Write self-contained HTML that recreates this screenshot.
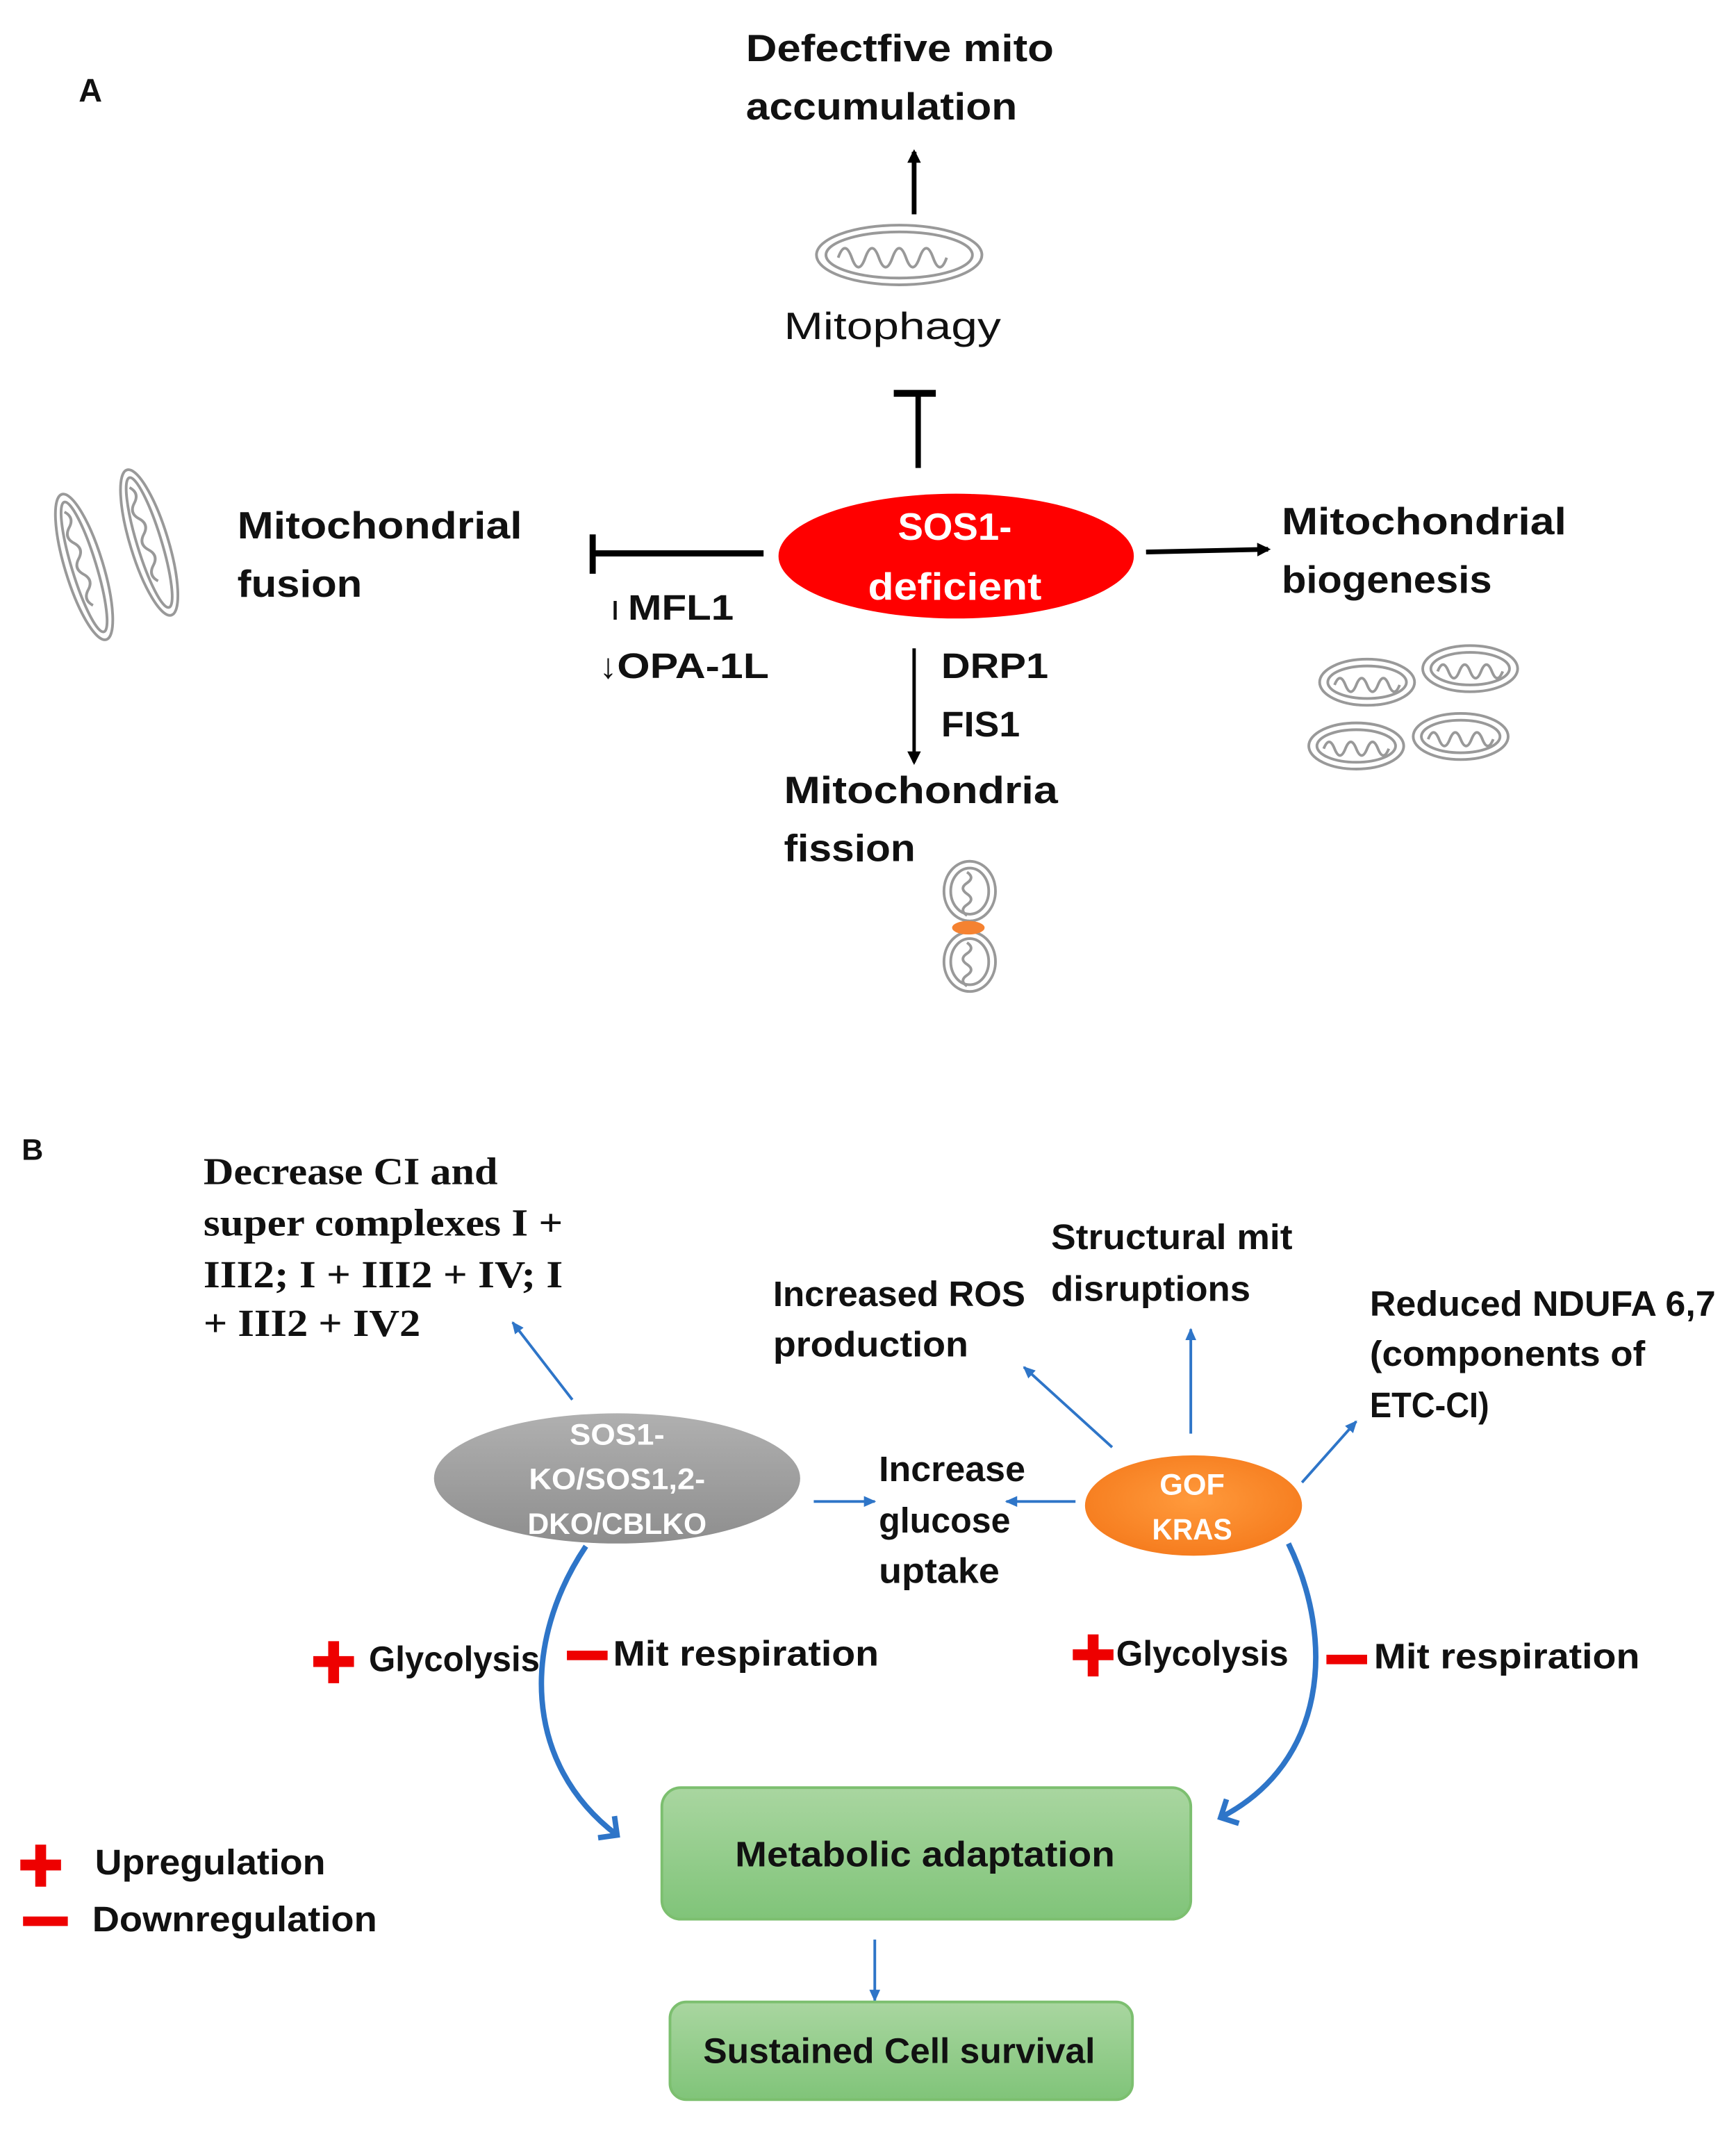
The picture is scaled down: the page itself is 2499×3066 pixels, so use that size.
<!DOCTYPE html>
<html><head><meta charset="utf-8"><style>html,body{margin:0;padding:0;background:#fff}svg{display:block}</style></head><body>
<svg width="2499" height="3066" viewBox="0 0 1280 1570.4" preserveAspectRatio="none" xmlns="http://www.w3.org/2000/svg">
<defs>
<marker id="ab" markerWidth="10" markerHeight="10" refX="8" refY="5" orient="auto" markerUnits="userSpaceOnUse"><path d="M0,0 L10,5 L0,10 z" fill="#000"/></marker>
<marker id="bl" markerWidth="9" markerHeight="8" refX="8" refY="4" orient="auto" markerUnits="userSpaceOnUse"><path d="M0,0 L9,4 L0,8 z" fill="#2e75c8"/></marker>
<marker id="bc" markerWidth="24" markerHeight="24" refX="12" refY="12" orient="auto" markerUnits="userSpaceOnUse"><path d="M2,2 L12,12 L2,22" fill="none" stroke="#2e75c8" stroke-width="4"/></marker>
<linearGradient id="gr" x1="0" y1="0" x2="0" y2="1"><stop offset="0" stop-color="#b0b0b0"/><stop offset="1" stop-color="#8e8e8e"/></linearGradient>
<linearGradient id="gg" x1="0" y1="0" x2="0" y2="1"><stop offset="0" stop-color="#a9d6a0"/><stop offset="1" stop-color="#80c479"/></linearGradient>
<radialGradient id="go" cx="0.5" cy="0.45" r="0.6"><stop offset="0" stop-color="#ff9a3c"/><stop offset="1" stop-color="#f57a1c"/></radialGradient>
</defs>
<g font-family="Liberation Sans, sans-serif" font-weight="bold" fill="#111" font-size="28" lengthAdjust="spacingAndGlyphs">
<text x="58" y="75" font-size="24">A</text>
<text x="550" y="45" textLength="227" lengthAdjust="spacingAndGlyphs">Defectfive mito</text>
<text x="550" y="88" textLength="200" lengthAdjust="spacingAndGlyphs">accumulation</text>
<text x="578" y="250" font-weight="normal" textLength="160" lengthAdjust="spacingAndGlyphs">Mitophagy</text>
<text x="175" y="397" textLength="210" lengthAdjust="spacingAndGlyphs">Mitochondrial</text>
<text x="175" y="440" textLength="92" lengthAdjust="spacingAndGlyphs">fusion</text>
<text x="450" y="457" font-size="26" font-weight="normal">ı</text>
<text x="463" y="457" font-size="26" textLength="78" lengthAdjust="spacingAndGlyphs">MFL1</text>
<text x="442" y="500" font-size="26" font-weight="normal">↓</text>
<text x="455" y="500" font-size="26" textLength="112" lengthAdjust="spacingAndGlyphs">OPA-1L</text>
<text x="945" y="394" textLength="210" lengthAdjust="spacingAndGlyphs">Mitochondrial</text>
<text x="945" y="437" textLength="155" lengthAdjust="spacingAndGlyphs">biogenesis</text>
<text x="694" y="500" font-size="26" textLength="79" lengthAdjust="spacingAndGlyphs">DRP1</text>
<text x="694" y="543" font-size="26" textLength="58" lengthAdjust="spacingAndGlyphs">FIS1</text>
<text x="578" y="592" textLength="202" lengthAdjust="spacingAndGlyphs">Mitochondria</text>
<text x="578" y="635" textLength="97" lengthAdjust="spacingAndGlyphs">fission</text>
</g>
<line x1="674" y1="158" x2="674" y2="112" stroke="#000" stroke-width="3.5" marker-end="url(#ab)"/>
<g fill="none" stroke="#999" stroke-width="2">
<ellipse cx="663" cy="188" rx="61" ry="22"/><ellipse cx="663" cy="188" rx="54" ry="17"/>
<path d="M618,190 q5,-14 10,0 q5,14 10,0 q5,-14 10,0 q5,14 10,0 q5,-14 10,0 q5,14 10,0 q5,-14 10,0 q5,14 10,0"/>
</g>
<line x1="677" y1="345" x2="677" y2="290" stroke="#000" stroke-width="4"/>
<line x1="659" y1="290" x2="690" y2="290" stroke="#000" stroke-width="5"/>
<ellipse cx="705" cy="410" rx="131" ry="46" fill="#f00"/>
<g font-family="Liberation Sans, sans-serif" font-weight="bold" fill="#fff" font-size="28" text-anchor="middle">
<text x="704" y="398" textLength="84" lengthAdjust="spacingAndGlyphs">SOS1-</text>
<text x="704" y="442" textLength="128" lengthAdjust="spacingAndGlyphs">deficient</text>
</g>
<line x1="563" y1="408" x2="436" y2="408" stroke="#000" stroke-width="4.5"/>
<line x1="437" y1="394" x2="437" y2="423" stroke="#000" stroke-width="4.5"/>
<line x1="845" y1="407" x2="935" y2="405" stroke="#000" stroke-width="3.5" marker-end="url(#ab)"/>
<line x1="674" y1="478" x2="674" y2="562" stroke="#000" stroke-width="2.5" marker-end="url(#ab)"/>
<g fill="none" stroke="#999" stroke-width="2">
<g transform="rotate(-17 62 418)"><ellipse cx="62" cy="418" rx="14" ry="56"/><ellipse cx="62" cy="418" rx="9" ry="50"/><path d="M60,375 q6,6 0,12 q-6,6 0,12 q6,6 0,12 q-6,6 0,12 q6,6 0,12 q-6,6 0,12"/></g>
<g transform="rotate(-17 110 400)"><ellipse cx="110" cy="400" rx="14" ry="56"/><ellipse cx="110" cy="400" rx="9" ry="50"/><path d="M108,357 q6,6 0,12 q-6,6 0,12 q6,6 0,12 q-6,6 0,12 q6,6 0,12 q-6,6 0,12"/></g>
<g id="m4">
<ellipse cx="1008" cy="503" rx="35" ry="17"/><ellipse cx="1008" cy="503" rx="29" ry="12"/>
<path d="M984,505 q4,-10 8,0 q4,10 8,0 q4,-10 8,0 q4,10 8,0 q4,-10 8,0 q4,10 8,0"/>
</g>
<use href="#m4" transform="translate(76,-10)"/>
<use href="#m4" transform="translate(-8,47)"/>
<use href="#m4" transform="translate(69,40)"/>
<ellipse cx="715" cy="657" rx="19" ry="22"/><ellipse cx="715" cy="657" rx="14" ry="17"/>
<ellipse cx="715" cy="709" rx="19" ry="22"/><ellipse cx="715" cy="709" rx="14" ry="17"/>
<path d="M713,643 q6,4 0,8 q-6,4 0,8 q6,4 0,8 q-6,4 0,8"/>
<path d="M713,695 q6,4 0,8 q-6,4 0,8 q6,4 0,8 q-6,4 0,8"/>
</g>
<ellipse cx="714" cy="684" rx="12" ry="5" fill="#f58231"/>
<text x="16" y="855" font-family="Liberation Sans, sans-serif" font-weight="bold" font-size="22" fill="#111">B</text>
<g font-family="Liberation Serif, serif" font-weight="bold" font-size="28" fill="#111">
<text x="150" y="873" textLength="217" lengthAdjust="spacingAndGlyphs">Decrease CI and</text>
<text x="150" y="911" textLength="265" lengthAdjust="spacingAndGlyphs">super complexes I +</text>
<text x="150" y="949" textLength="265" lengthAdjust="spacingAndGlyphs">III2; I + III2 + IV; I</text>
<text x="150" y="985" textLength="160" lengthAdjust="spacingAndGlyphs">+ III2 + IV2</text>
</g>
<g stroke="#2e75c8" stroke-width="2" fill="none">
<line x1="422" y1="1032" x2="378" y2="975" marker-end="url(#bl)"/>
<line x1="600" y1="1107" x2="645" y2="1107" marker-end="url(#bl)"/>
<line x1="793" y1="1107" x2="742" y2="1107" marker-end="url(#bl)"/>
<line x1="820" y1="1067" x2="755" y2="1008" marker-end="url(#bl)"/>
<line x1="878" y1="1057" x2="878" y2="980" marker-end="url(#bl)"/>
<line x1="960" y1="1093" x2="1000" y2="1048" marker-end="url(#bl)"/>
<line x1="645" y1="1430" x2="645" y2="1475" marker-end="url(#bl)"/>
<path d="M432,1140 C385,1210 385,1300 455,1353" stroke-width="4" marker-end="url(#bc)"/>
<path d="M950,1138 C985,1210 978,1300 900,1340" stroke-width="4" marker-end="url(#bc)"/>
</g>
<ellipse cx="455" cy="1090" rx="135" ry="48" fill="url(#gr)"/>
<ellipse cx="880" cy="1110" rx="80" ry="37" fill="url(#go)"/>
<g font-family="Liberation Sans, sans-serif" font-weight="bold" fill="#fff" font-size="22" text-anchor="middle">
<text x="455" y="1065" textLength="70" lengthAdjust="spacingAndGlyphs">SOS1-</text>
<text x="455" y="1098" textLength="130" lengthAdjust="spacingAndGlyphs">KO/SOS1,2-</text>
<text x="455" y="1131" textLength="132" lengthAdjust="spacingAndGlyphs">DKO/CBLKO</text>
<text x="879" y="1102" textLength="48" lengthAdjust="spacingAndGlyphs">GOF</text>
<text x="879" y="1135" textLength="59" lengthAdjust="spacingAndGlyphs">KRAS</text>
</g>
<g font-family="Liberation Sans, sans-serif" font-weight="bold" fill="#111" font-size="26">
<text x="570" y="963" textLength="186" lengthAdjust="spacingAndGlyphs">Increased ROS</text>
<text x="570" y="1000" textLength="144" lengthAdjust="spacingAndGlyphs">production</text>
<text x="775" y="921" textLength="178" lengthAdjust="spacingAndGlyphs">Structural mit</text>
<text x="775" y="959" textLength="147" lengthAdjust="spacingAndGlyphs">disruptions</text>
<text x="1010" y="970" textLength="255" lengthAdjust="spacingAndGlyphs">Reduced NDUFA 6,7</text>
<text x="1010" y="1007" textLength="203" lengthAdjust="spacingAndGlyphs">(components of</text>
<text x="1010" y="1045" textLength="88" lengthAdjust="spacingAndGlyphs">ETC-CI)</text>
<text x="648" y="1092" textLength="108" lengthAdjust="spacingAndGlyphs">Increase</text>
<text x="648" y="1130" textLength="97" lengthAdjust="spacingAndGlyphs">glucose</text>
<text x="648" y="1167" textLength="89" lengthAdjust="spacingAndGlyphs">uptake</text>
<text x="272" y="1232" textLength="126" lengthAdjust="spacingAndGlyphs">Glycolysis</text>
<text x="452" y="1228" textLength="196" lengthAdjust="spacingAndGlyphs">Mit respiration</text>
<text x="823" y="1228" textLength="127" lengthAdjust="spacingAndGlyphs">Glycolysis</text>
<text x="1013" y="1230" textLength="196" lengthAdjust="spacingAndGlyphs">Mit respiration</text>
<text x="70" y="1382" textLength="170" lengthAdjust="spacingAndGlyphs">Upregulation</text>
<text x="68" y="1424" textLength="210" lengthAdjust="spacingAndGlyphs">Downregulation</text>
</g>
<g fill="#e00">
<path d="M242,1210 h8 v11 h11 v8 h-11 v12 h-8 v-12 h-11 v-8 h11 z"/>
<rect x="418" y="1217" width="30" height="7"/>
<path d="M802,1205 h8 v11 h11 v8 h-11 v12 h-8 v-12 h-11 v-8 h11 z"/>
<rect x="978" y="1220" width="30" height="7"/>
<path d="M26,1360 h8 v11 h11 v8 h-11 v12 h-8 v-12 h-11 v-8 h11 z"/>
<rect x="17" y="1413" width="33" height="7"/>
</g>
<rect x="488" y="1318" width="390" height="97" rx="14" fill="url(#gg)" stroke="#7cbf6f" stroke-width="2"/>
<rect x="494" y="1476" width="341" height="72" rx="12" fill="url(#gg)" stroke="#7cbf6f" stroke-width="2"/>
<g font-family="Liberation Sans, sans-serif" font-weight="bold" fill="#111" font-size="26" text-anchor="middle">
<text x="682" y="1376" textLength="280" lengthAdjust="spacingAndGlyphs">Metabolic adaptation</text>
<text x="663" y="1521" textLength="289" lengthAdjust="spacingAndGlyphs">Sustained Cell survival</text>
</g>
</svg>
</body></html>
